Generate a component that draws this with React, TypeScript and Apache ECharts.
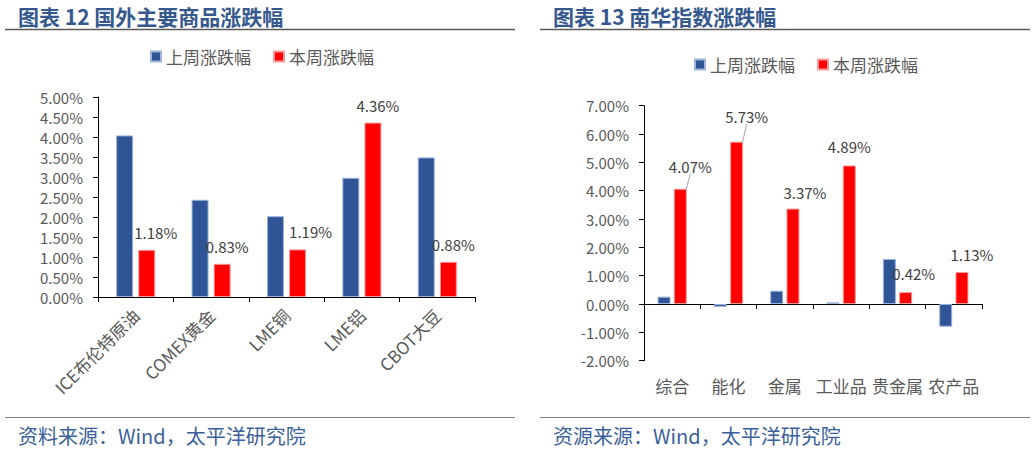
import React, { useEffect, useRef } from "react";
import * as echarts from "echarts";

// Left chart: 国外主要商品涨跌幅
const leftCategories = ["ICE布伦特原油", "COMEX黄金", "LME铜", "LME铝", "CBOT大豆"];
const leftLastWeek = [4.04, 2.43, 2.02, 2.98, 3.49];
const leftThisWeek = [1.18, 0.83, 1.19, 4.36, 0.88];
const leftTicks = { min: 0, max: 5, interval: 0.5 };

// Right chart: 南华指数涨跌幅
const rightCategories = ["综合", "能化", "金属", "工业品", "贵金属", "农产品"];
const rightLastWeek = [0.26, -0.1, 0.47, 0.06, 1.59, -0.8];
const rightThisWeek = [4.07, 5.73, 3.37, 4.89, 0.42, 1.13];
const rightTicks = { min: -2, max: 7, interval: 1 };

const seriesNames = ["上周涨跌幅", "本周涨跌幅"];

// label nudges (style only)
const leftLabelDx = [9, 5, 13, 5, 5];
const rightLabelDx = [10, 10, 12, 0, 8, 10];
const rightLabelDy = [-5, -8, 1, -1, -1, 0];
const rightLeader = [true, true, false, false, false, false];

const BLUE = "#2F5597";
const RED = "#FF0000";
const AXIS_TEXT = "#595959";
const LABEL_TEXT = "#404040";
const FONT = "'Noto Sans CJK SC', 'Noto Sans', sans-serif";

export default function App() {
  const ref = useRef<HTMLDivElement>(null);
  useEffect(() => {
    document.body.style.margin = "0";
    if (!ref.current) return;
    const chart = echarts.init(ref.current, null, { renderer: "svg" });
    const pct = (v: number) => v.toFixed(2) + "%";
    const labelFmt = (p: any) => Number(p.value).toFixed(2) + "%";

    const legendBase = {
      data: seriesNames,
      padding: 0,
      itemWidth: 10,
      itemHeight: 10,
      itemGap: 22,
      icon: "rect",
      textStyle: { color: AXIS_TEXT, fontSize: 17, fontFamily: FONT },
    };

    const option: any = {
      animation: false,
      textStyle: { fontFamily: FONT },
      legend: [
        { ...legendBase, left: 150, top: 48 },
        { ...legendBase, left: 694, top: 56 },
      ],
      grid: [
        { left: 98, top: 97, width: 377, height: 200, containLabel: false },
        { left: 644, top: 105.7, width: 338, height: 255, containLabel: false },
      ],
      xAxis: [
        {
          type: "category",
          gridIndex: 0,
          data: leftCategories,
          axisLine: { lineStyle: { color: "#000", width: 1 } },
          axisTick: { show: true, length: 5, lineStyle: { color: "#000" } },
          axisLabel: {
            color: AXIS_TEXT,
            fontSize: 17,
            rotate: 45,
            margin: 15,
            interval: 0,
            fontFamily: FONT,
          },
        },
        {
          type: "category",
          gridIndex: 1,
          data: rightCategories,
          position: "bottom",
          axisLine: { onZero: true, lineStyle: { color: "#000", width: 1 } },
          axisTick: { show: true, length: 5, lineStyle: { color: "#000" } },
          axisLabel: { show: false },
        },
        {
          type: "category",
          gridIndex: 1,
          data: rightCategories,
          position: "bottom",
          axisLine: { show: false, onZero: false },
          axisTick: { show: false },
          axisLabel: {
            color: AXIS_TEXT,
            fontSize: 17,
            margin: 16,
            interval: 0,
            fontFamily: FONT,
          },
        },
      ],
      yAxis: [
        {
          type: "value",
          gridIndex: 0,
          min: leftTicks.min,
          max: leftTicks.max,
          interval: leftTicks.interval,
          axisLine: { show: true, lineStyle: { color: "#000" } },
          axisTick: { show: true, length: 5, lineStyle: { color: "#000" } },
          splitLine: { show: false },
          axisLabel: { color: AXIS_TEXT, fontSize: 15, margin: 15, formatter: pct, fontFamily: FONT },
        },
        {
          type: "value",
          gridIndex: 1,
          min: rightTicks.min,
          max: rightTicks.max,
          interval: rightTicks.interval,
          axisLine: { show: true, lineStyle: { color: "#000" } },
          axisTick: { show: true, length: 5, lineStyle: { color: "#000" } },
          splitLine: { show: false },
          axisLabel: { color: AXIS_TEXT, fontSize: 15, margin: 15, formatter: pct, fontFamily: FONT },
        },
      ],
      series: [
        {
          name: seriesNames[0],
          type: "bar",
          xAxisIndex: 0,
          yAxisIndex: 0,
          data: leftLastWeek,
          barWidth: 17,
          barGap: "30%",
          itemStyle: { color: BLUE, borderColor: "#9DB3DD", borderWidth: 1 },
        },
        {
          name: seriesNames[1],
          type: "bar",
          xAxisIndex: 0,
          yAxisIndex: 0,
          data: leftThisWeek,
          barWidth: 17,
          barGap: "30%",
          itemStyle: { color: RED, borderColor: "#FF9A9A", borderWidth: 1 },
          label: {
            show: true,
            position: "top",
            distance: 10,
            color: LABEL_TEXT,
            fontSize: 15,
            fontFamily: FONT,
            formatter: labelFmt,
          },
          labelLayout: (p: any) => ({ dx: leftLabelDx[p.dataIndex] || 0, dy: 0 }),
        },
        {
          name: seriesNames[0],
          type: "bar",
          xAxisIndex: 1,
          yAxisIndex: 1,
          data: rightLastWeek,
          barWidth: 13,
          barGap: "25%",
          itemStyle: { color: BLUE, borderColor: "#9DB3DD", borderWidth: 1 },
        },
        {
          name: seriesNames[1],
          type: "bar",
          xAxisIndex: 1,
          yAxisIndex: 1,
          data: rightThisWeek.map((v, i) => ({
            value: v,
            labelLine: { show: rightLeader[i] },
          })),
          barWidth: 13,
          barGap: "25%",
          itemStyle: { color: RED, borderColor: "#FF9A9A", borderWidth: 1 },
          label: {
            show: true,
            position: "top",
            distance: 10,
            color: LABEL_TEXT,
            fontSize: 15,
            fontFamily: FONT,
            formatter: labelFmt,
          },
          labelLine: { show: false, lineStyle: { color: "#A6A6A6", width: 1 } },
          labelLayout: (p: any) => ({
            dx: rightLabelDx[p.dataIndex] || 0,
            dy: rightLabelDy[p.dataIndex] || 0,
          }),
        },
      ],
      graphic: [
        {
          type: "text",
          left: 18,
          top: 5,
          style: {
            text: "图表 12 国外主要商品涨跌幅",
            fill: "#35588F",
            font: `bold 21px ${FONT}`,
            lineHeight: 22,
          },
        },
        {
          type: "text",
          left: 553,
          top: 5,
          style: {
            text: "图表 13 南华指数涨跌幅",
            fill: "#35588F",
            font: `bold 21px ${FONT}`,
            lineHeight: 22,
          },
        },
        { type: "line", shape: { x1: 5, y1: 29.5, x2: 515, y2: 29.5 }, style: { stroke: "#595959", lineWidth: 1.5 } },
        { type: "line", shape: { x1: 540, y1: 29.5, x2: 1030, y2: 29.5 }, style: { stroke: "#595959", lineWidth: 1.5 } },
        { type: "line", shape: { x1: 5, y1: 417.5, x2: 515, y2: 417.5 }, style: { stroke: "#808080", lineWidth: 1 } },
        { type: "line", shape: { x1: 540, y1: 417.5, x2: 1030, y2: 417.5 }, style: { stroke: "#808080", lineWidth: 1 } },
        {
          type: "text",
          left: 18,
          top: 424,
          style: {
            text: "资料来源：Wind，太平洋研究院",
            fill: "#3B5F9B",
            font: `20px ${FONT}`,
            lineHeight: 22,
          },
        },
        {
          type: "text",
          left: 553,
          top: 424,
          style: {
            text: "资源来源：Wind，太平洋研究院",
            fill: "#3B5F9B",
            font: `20px ${FONT}`,
            lineHeight: 22,
          },
        },
      ],
    };
    chart.setOption(option);
    return () => chart.dispose();
  }, []);
  return <div ref={ref} style={{ width: 1035, height: 451 }} />;
}
